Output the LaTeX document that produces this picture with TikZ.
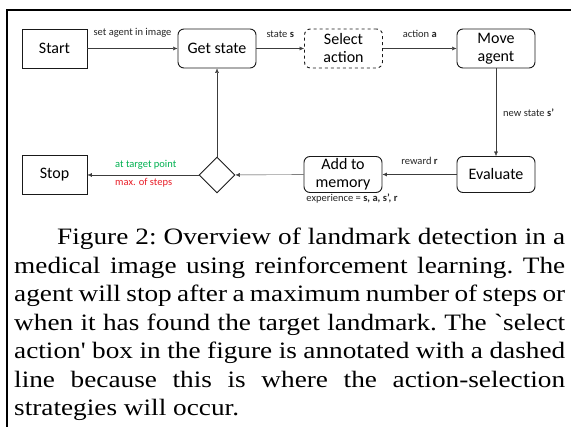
\documentclass[tikz,border=0pt]{standalone}
\usepackage{fontspec}
\newfontfamily\diafont{Carlito}
\newfontfamily\capfont[FakeStretch=1.16]{Liberation Serif}
\usetikzlibrary{positioning,shapes.geometric,arrows.meta}
\definecolor{linegray}{RGB}{60,60,60}
\definecolor{hitgreen}{RGB}{0,176,80}
\definecolor{stopred}{RGB}{232,30,40}
\tikzset{
  box/.style={rectangle,draw=black!90,line width=0.9pt,minimum width=65pt,minimum height=39pt,
    inner sep=1pt,align=center,font=\diafont\fontsize{16}{18}\selectfont},
  rbox/.style={box,rounded corners=6pt,minimum width=78pt},
  lbl/.style={font=\diafont\fontsize{10.5}{12}\selectfont,inner sep=1pt,text=black!85}
}

\begin{document}
\begin{tikzpicture}[x=1pt,y=1pt,on grid,auto,>={Latex[length=4.5pt,width=4pt]}]
\useasboundingbox (0,0) rectangle (571,-427);
\draw[line width=1.2pt] (7,-427) -- (7,-10) -- (571,-10);
\node[box](q_start) at (54.5,-48.5) {Start};
\node[rbox](q_get)[right=162.5pt of q_start]{Get state};
\node[rbox,dashed](q_sel)[right=126.5pt of q_get]{Select\\action};
\node[rbox](q_move)[right=152.5pt of q_sel]{Move\\agent};
\node[rbox,minimum height=36pt](q_eval)[below=126pt of q_move]{Evaluate};
\node[rbox,minimum height=36pt](q_mem)[left=153pt of q_eval]{Add to\\memory};
\node[diamond,draw=black!90,line width=0.9pt,minimum width=36pt,minimum height=36pt,inner sep=0pt](q_dec)[below=126.5pt of q_get]{};
\node[box](q_stop)[left=162.5pt of q_dec]{Stop};
\draw[->,linegray] (q_start) -- (q_get) node[midway,lbl,above=10pt] {set agent in image};
\draw[->,linegray] (q_get) -- (q_sel) node[midway,lbl,above=10pt] {state \textbf{s}};
\draw[->,linegray] (q_sel) -- (q_move) node[midway,lbl,above=10pt] {action \textbf{a}};
\draw[->,linegray] (q_move) -- (q_eval) node[midway,lbl,anchor=west,xshift=6pt] {new state \textbf{s’}};
\draw[->,linegray] (q_eval) -- (q_mem) node[midway,lbl,above=9pt] {reward \textbf{r}};
\draw[->,linegray] (q_mem) -- (q_dec);
\draw[->,linegray] (q_dec) -- (q_get);
\draw[->,linegray] (q_dec) -- (q_stop)
  node[midway,lbl,text=hitgreen,anchor=west,xshift=-29pt,yshift=10pt] {at target point}
  node[midway,lbl,text=stopred,anchor=west,xshift=-29pt,yshift=-8pt] {max. of steps};
\node[lbl,below=24pt of q_mem,xshift=9pt](q_exp) {experience = \textbf{s, a, s’, r}};
\node[anchor=north west,inner sep=0pt,text width=551pt,align=justify,
  font=\capfont\fontsize{23.5}{28.5}\selectfont\frenchspacing](q_cap) at (14,-228)
  {\hspace*{43pt}Figure 2: Overview of landmark detection in a\linebreak
  medical image using reinforcement learning. The\linebreak
  agent will stop after a maximum number of steps or\linebreak
  when it has found the target landmark. The `select\linebreak
  action' box in the figure is annotated with a dashed\linebreak
  line because this is where the action-selection\linebreak
  strategies will occur.};
\end{tikzpicture}
\end{document}
